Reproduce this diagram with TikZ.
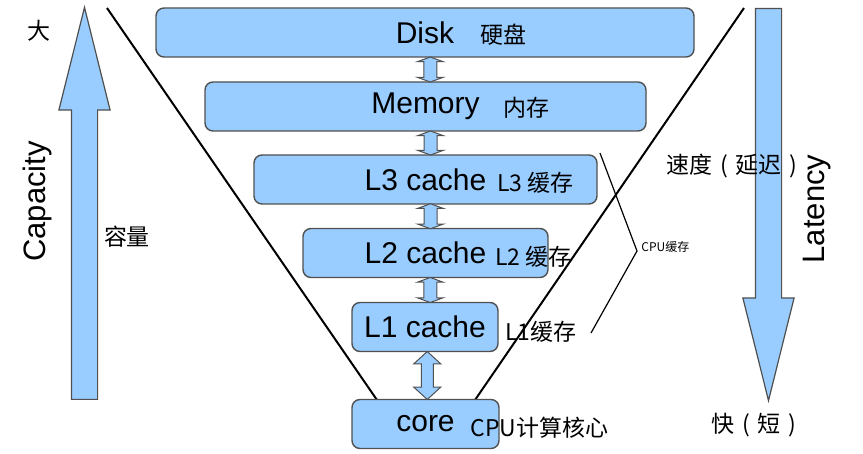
\documentclass[tikz,border=0pt]{standalone}
\usepackage{fontspec}
\setmainfont{Liberation Sans}
\newfontfamily\cjk{Noto Sans CJK SC}
\usetikzlibrary{calc,shapes.arrows}
\definecolor{boxblue}{RGB}{153,204,255}
\definecolor{edgegray}{RGB}{80,80,80}
\newcommand\fwp[1]{\makebox[1em]{#1}}
\tikzset{
  box/.style={draw=edgegray,fill=boxblue,line width=0.7pt,rounded corners=4pt,
    minimum height=24.5pt,inner sep=0pt,font=\fontsize{15}{18}\selectfont},
  zh/.style={inner sep=0pt,font=\cjk\fontsize{11.5}{14}\selectfont},
  link/.style={shape=double arrow,draw=edgegray,fill=boxblue,line width=0.5pt,
    rotate=90,inner xsep=0pt},
  bigarrow/.style={shape=single arrow,draw=edgegray,fill=boxblue,line width=0.6pt,
    inner xsep=0pt,inner ysep=6.25pt,minimum height=196pt,anchor=tail,
    single arrow head extend=6.25pt,single arrow tip angle=28},
  axis/.style={inner sep=0pt,font=\fontsize{15.5}{18}\selectfont,rotate=90}
}
\begin{document}
\begin{tikzpicture}[x=0.5pt,y=-0.5pt]
\useasboundingbox (0,0) rectangle (863,454);
% 漏斗两边
\coordinate (ltop) at (107,8); \coordinate (lbot) at (377,400);
\coordinate (rtop) at (744,8); \coordinate (rbot) at (475,400);
\draw[line width=1pt] (ltop) -- (lbot) (rtop) -- (rbot);

% 左右两个大箭头
\node[bigarrow,rotate=90] (cap) at (84.5,400) {};
\node[bigarrow,rotate=-90] (lat) at (768.5,8) {};

% 存储层次
\node[box,minimum width=269pt] (disk) at (425,32.5) {Disk};
\node[box,minimum width=220.5pt] (mem) at (425.5,106.5) {Memory};
\node[box,minimum width=171.5pt] (lthree) at (425.5,179.5) {L3 cache};
\node[box,minimum width=122.5pt] (ltwo) at (425.5,253) {L2 cache};
\node[box,minimum width=73pt] (lone) at (425,327) {L1 cache};
\node[box,minimum width=73.5pt] (core) at (425.5,424) {core};

\node[zh,anchor=west] (diskzh) at (480,35) {硬盘};
\node[zh,anchor=west] (memzh) at (503,108) {内存};
\node[zh,anchor=west] (lthreezh) at (497,183) {L3 缓存};
\node[zh,anchor=west] (ltwozh) at (495,257) {L2 缓存};
\node[zh,anchor=west] (lonezh) at (505,332) {L1缓存};
\node[zh,anchor=west] (corezh) at (470,428) {CPU计算核心};

% 层间双向箭头
\foreach \u/\l/\len/\ext/\sh/\tip/\dx in {disk/mem/12.5/3.25/3/140/5,
    mem/lthree/12/3.25/3/140/5, lthree/ltwo/12.5/3.25/3/140/5,
    ltwo/lone/12.5/3.25/3/140/5, lone/core/24/3.75/2.75/95/2}
  \node[link,minimum height=\len pt,inner ysep=\sh pt,double arrow head extend=\ext pt,
    double arrow tip angle=\tip] (\u-\l) at ($(\u.south)!0.5!(\l.north)+(\dx,0)$) {};

% 文字
\node[zh] (big) at (39,31) {大};
\node[axis] (captxt) at (37,201.5) {Capacity};
\node[zh] (rong) at (127,237) {容量};
\node[axis] (lattxt) at (817,209) {Latency};
\node[zh] (speed) at (735.5,166) {速度\fwp{(}延迟\fwp{)}};
\node[zh] (fast) at (757.5,425) {快\fwp{(}短\fwp{)}};

% CPU缓存 括号
\coordinate (b1) at (600,153); \coordinate (b2) at (637,251); \coordinate (b3) at (591,333);
\draw[line width=0.6pt] (b1) -- (b2) -- (b3);
\node[inner sep=0pt,anchor=west,font=\cjk\fontsize{6}{7}\selectfont] (cpucache) at (641,247) {CPU缓存};
\end{tikzpicture}
\end{document}
